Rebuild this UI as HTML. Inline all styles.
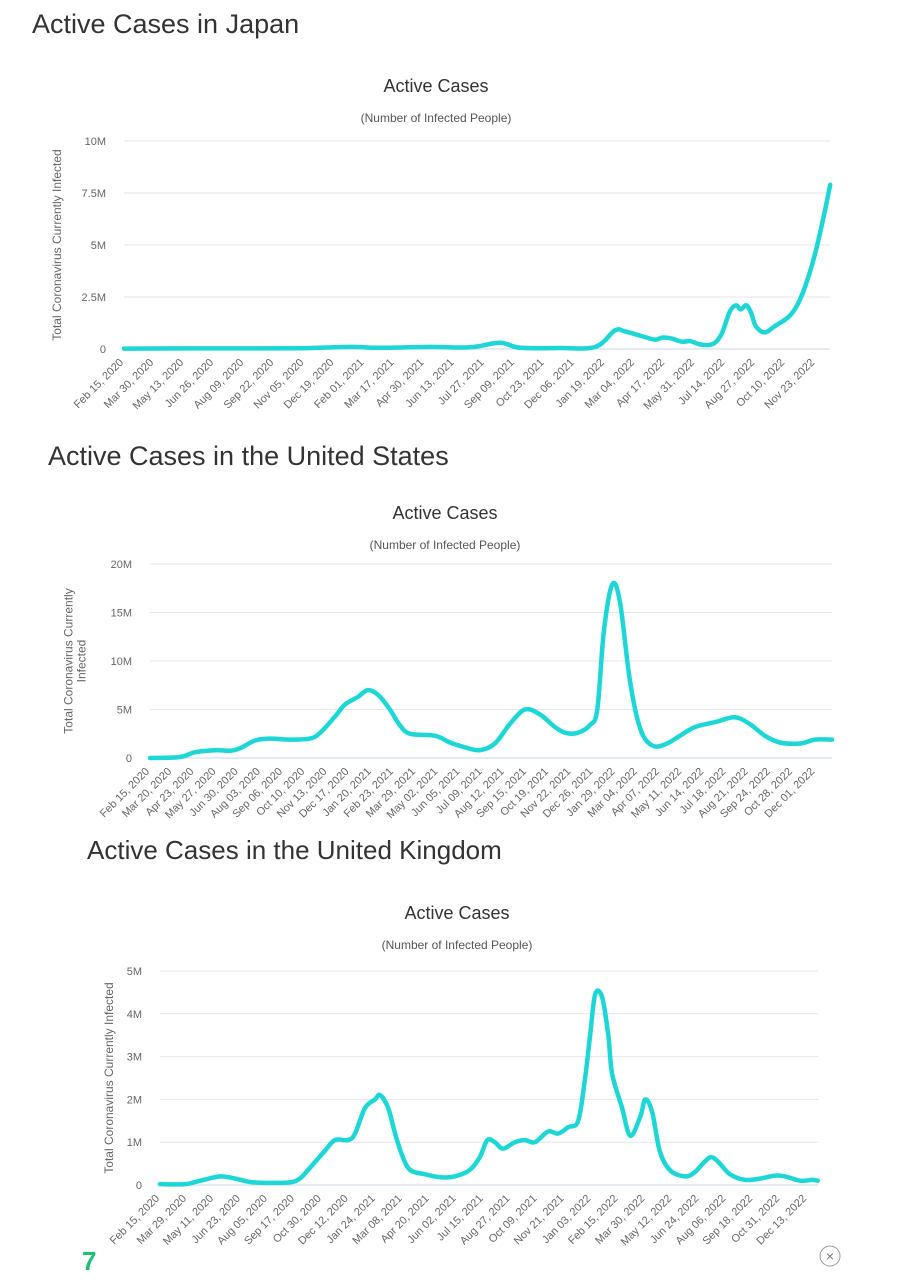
<!DOCTYPE html>
<html><head><meta charset="utf-8"><style>
body{margin:0;background:#fff;width:906px;height:1280px;overflow:hidden;font-family:"Liberation Sans",sans-serif}
svg{display:block}
</style></head><body>
<svg id="s" width="906" height="1280">
<text x="32" y="33" font-size="27" fill="#333">Active Cases in Japan</text>
<text x="48" y="465" font-size="27" fill="#333">Active Cases in the United States</text>
<text x="87" y="859" font-size="26" fill="#333">Active Cases in the United Kingdom</text>
<text x="82" y="1270" font-size="26" font-weight="bold" fill="#1dbf73">7</text>
<circle cx="830" cy="1256" r="10" fill="none" stroke="#999"/>
<text x="830" y="1261" font-size="14" fill="#777" text-anchor="middle">×</text>
</svg>
<script>
// Japan
const jpDays=[0,111,258,331,375,448,507,550,580,638,690,719,733,755,777,788,802,817,829,843,858,867,876,887,896,903,911,918,925,938,953,975,990,1007,1022,1034];
const jpVals=[0.02,0.03,0.04,0.1,0.06,0.1,0.08,0.3,0.06,0.05,0.1,0.9,0.85,0.65,0.45,0.55,0.5,0.35,0.38,0.22,0.2,0.35,0.8,1.8,2.1,1.9,2.1,1.75,1.1,0.8,1.1,1.6,2.4,4.0,6.0,7.9];
const jpTicks=[0,2.5,5,7.5,10];
const jpTickLabels=["0","2.5M","5M","7.5M","10M"];
const jpLabels=["Feb 15, 2020","Mar 30, 2020","May 13, 2020","Jun 26, 2020","Aug 09, 2020","Sep 22, 2020","Nov 05, 2020","Dec 19, 2020","Feb 01, 2021","Mar 17, 2021","Apr 30, 2021","Jun 13, 2021","Jul 27, 2021","Sep 09, 2021","Oct 23, 2021","Dec 06, 2021","Jan 19, 2022","Mar 04, 2022","Apr 17, 2022","May 31, 2022","Jul 14, 2022","Aug 27, 2022","Oct 10, 2022","Nov 23, 2022"];
// US
const usDays=[0,46,69,100,123,138,161,184,215,245,261,284,299,319,334,350,368,383,399,437,460,483,506,529,552,575,598,621,637,656,675,686,696,709,721,736,752,770,790,813,836,867,897,920,943,966,997,1020,1046];
const usVals=[0,0.1,0.6,0.8,0.75,1.0,1.8,2.0,1.9,2.0,2.6,4.3,5.5,6.3,7.0,6.5,5.0,3.4,2.5,2.3,1.6,1.1,0.8,1.5,3.5,5.0,4.5,3.2,2.6,2.6,3.4,5.0,13,17.9,16,8.0,3.0,1.3,1.4,2.3,3.2,3.7,4.2,3.5,2.3,1.6,1.5,1.9,1.9];
const usTicks=[0,5,10,15,20];
const usTickLabels=["0","5M","10M","15M","20M"];
const usLabels=["Feb 15, 2020","Mar 20, 2020","Apr 23, 2020","May 27, 2020","Jun 30, 2020","Aug 03, 2020","Sep 06, 2020","Oct 10, 2020","Nov 13, 2020","Dec 17, 2020","Jan 20, 2021","Feb 23, 2021","Mar 29, 2021","May 02, 2021","Jun 05, 2021","Jul 09, 2021","Aug 12, 2021","Sep 15, 2021","Oct 19, 2021","Nov 22, 2021","Dec 26, 2021","Jan 29, 2022","Mar 04, 2022","Apr 07, 2022","May 11, 2022","Jun 14, 2022","Jul 18, 2022","Aug 21, 2022","Sep 24, 2022","Oct 28, 2022","Dec 01, 2022"];
// UK
const ukDays=[0,40,64,96,120,144,175,207,223,239,263,279,300,311,327,343,351,364,375,386,399,423,447,470,494,510,522,534,547,566,582,598,619,635,651,667,678,686,694,705,715,721,737,750,766,774,785,797,813,837,853,869,880,893,909,933,957,981,997,1021,1040,1049];
const ukVals=[0.02,0.02,0.1,0.2,0.15,0.07,0.05,0.06,0.15,0.4,0.8,1.05,1.05,1.2,1.8,2.0,2.1,1.8,1.2,0.7,0.35,0.25,0.18,0.2,0.35,0.65,1.05,1.0,0.85,1.0,1.05,1.0,1.25,1.2,1.35,1.5,2.5,3.5,4.45,4.4,3.5,2.6,1.8,1.15,1.6,2.0,1.7,0.8,0.35,0.2,0.3,0.55,0.65,0.5,0.25,0.12,0.15,0.22,0.2,0.1,0.12,0.1];
const ukTicks=[0,1,2,3,4,5];
const ukTickLabels=["0","1M","2M","3M","4M","5M"];
const ukLabels=["Feb 15, 2020","Mar 29, 2020","May 11, 2020","Jun 23, 2020","Aug 05, 2020","Sep 17, 2020","Oct 30, 2020","Dec 12, 2020","Jan 24, 2021","Mar 08, 2021","Apr 20, 2021","Jun 02, 2021","Jul 15, 2021","Aug 27, 2021","Oct 09, 2021","Nov 21, 2021","Jan 03, 2022","Feb 15, 2022","Mar 30, 2022","May 12, 2022","Jun 24, 2022","Aug 06, 2022","Sep 18, 2022","Oct 31, 2022","Dec 13, 2022"];

const NS="http://www.w3.org/2000/svg";
const svg=document.getElementById('s');
function mk(tag,attrs,parent){const e=document.createElementNS(NS,tag);for(const k in attrs)e.setAttribute(k,attrs[k]);(parent||svg).appendChild(e);return e;}

function smooth(pts){
  let d='M'+pts[0][0].toFixed(1)+' '+pts[0][1].toFixed(1);
  for(let i=0;i<pts.length-1;i++){
    const p0=pts[Math.max(0,i-1)],p1=pts[i],p2=pts[i+1],p3=pts[Math.min(pts.length-1,i+2)];
    const c1x=p1[0]+(p2[0]-p0[0])/6,c1y=p1[1]+(p2[1]-p0[1])/6;
    const c2x=p2[0]-(p3[0]-p1[0])/6,c2y=p2[1]-(p3[1]-p1[1])/6;
    d+=`C${c1x.toFixed(1)} ${c1y.toFixed(1)} ${c2x.toFixed(1)} ${c2y.toFixed(1)} ${p2[0].toFixed(1)} ${p2[1].toFixed(1)}`;
  }
  return d;
}

function chart(c){
  const g=mk('g',{});
  
  
  const sx=d=>c.x0+d*c.pxDay;
  const ymax=c.ticks[c.ticks.length-1];
  const sy=v=>c.yb-(v/ymax)*(c.yb-c.yt);
  const t=mk('text',{x:c.cx,y:c.titleY,'font-size':18,fill:'#333','text-anchor':'middle'},g);t.textContent='Active Cases';
  
  const st=mk('text',{x:c.cx,y:c.titleY+30,'font-size':12,fill:'#555','text-anchor':'middle'},g);st.textContent='(Number of Infected People)';
  
  c.ticks.forEach((v,i)=>{
    const l=mk('line',{x1:c.x0,x2:c.x1,y1:sy(v),y2:sy(v),stroke:i==0?'#ccd6eb':'#e6e6e6','stroke-width':1},g);
    
    const tl=mk('text',{x:c.x0-18,y:sy(v)+4,'font-size':11,fill:'#666','text-anchor':'end'},g);tl.textContent=c.tickLabels[i];
    
  });
  c.labels.forEach((s,i)=>{
    const x=sx(i*c.step), y=c.yb+14;
    const tl=mk('text',{x:x,y:y,'font-size':11,fill:'#666','text-anchor':'end',transform:`rotate(-45 ${x} ${y})`},g);tl.textContent=s;
    
  });
  const yt=mk('g',{transform:`translate(${c.ytx},${(c.yt+c.yb)/2}) rotate(-90)`},g);
  c.ytitle.forEach((s,i)=>{
    const tt=mk('text',{x:0,y:i*13-(c.ytitle.length-1)*6.5,'font-size':12,fill:'#666','text-anchor':'middle'},yt);tt.textContent=s;
    
  });
  const pts=c.days.map((dd,i)=>[sx(dd),sy(c.vals[i])]);
  const p=mk('path',{d:smooth(pts),fill:'none',stroke:'#1dd6d6','stroke-width':4.5,'stroke-linejoin':'round','stroke-linecap':'round'},g);
  
}
chart({name:'japan-chart',x0:124,x1:830,yt:141,yb:349,pxDay:0.683,cx:436,titleY:92,ytx:61,step:44,days:jpDays,vals:jpVals,ticks:jpTicks,tickLabels:jpTickLabels,labels:jpLabels,ytitle:['Total Coronavirus Currently Infected']});
chart({name:'us-chart',x0:150,x1:832,yt:564,yb:758,pxDay:0.652,cx:445,titleY:519,ytx:79,step:34,days:usDays,vals:usVals,ticks:usTicks,tickLabels:usTickLabels,labels:usLabels,ytitle:['Total Coronavirus Currently','Infected']});
chart({name:'uk-chart',x0:160,x1:818,yt:971,yb:1185,pxDay:0.627,cx:457,titleY:919,ytx:113,step:43,days:ukDays,vals:ukVals,ticks:ukTicks,tickLabels:ukTickLabels,labels:ukLabels,ytitle:['Total Coronavirus Currently Infected']});
</script>
</body></html>
